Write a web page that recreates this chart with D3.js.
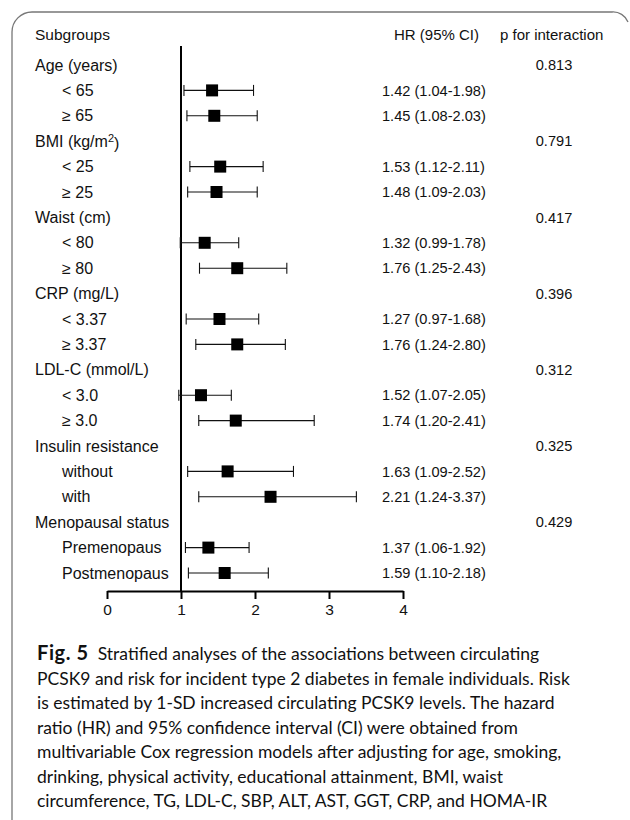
<!DOCTYPE html>
<html>
<head>
<meta charset="utf-8">
<script src="https://cdn.jsdelivr.net/npm/d3@7"></script>
<style>
  body { margin: 0; background: #fff; }
  svg text { fill: #111; }
</style>
</head>
<body>
<div class="container"></div>
<script>
// row labels (group headers have level 0, subgroups level 1)
const rowLabels = [
  'Age (years)', '< 65', '\u2265 65',
  'BMI (kg/m2)', '< 25', '\u2265 25',
  'Waist (cm)', '< 80', '\u2265 80',
  'CRP (mg/L)', '< 3.37', '\u2265 3.37',
  'LDL-C (mmol/L)', '< 3.0', '\u2265 3.0',
  'Insulin resistance', 'without', 'with',
  'Menopausal status', 'Premenopaus', 'Postmenopaus'
];
const rowLevels = [0, 1, 1, 0, 1, 1, 0, 1, 1, 0, 1, 1, 0, 1, 1, 0, 1, 1, 0, 1, 1];

// plotted estimates (as drawn in the figure)
const hr    = [null, 1.42, 1.45, null, 1.53, 1.48, null, 1.32, 1.76, null, 1.52, 1.76, null, 1.27, 1.74, null, 1.63, 2.21, null, 1.37, 1.59];
const lower = [null, 1.04, 1.08, null, 1.12, 1.09, null, 0.99, 1.25, null, 1.07, 1.20, null, 0.97, 1.24, null, 1.09, 1.24, null, 1.06, 1.10];
const upper = [null, 1.98, 2.03, null, 2.11, 2.03, null, 1.78, 2.43, null, 2.05, 2.41, null, 1.68, 2.80, null, 2.52, 3.37, null, 1.92, 2.18];

// text columns
const hrText = ['', '1.42 (1.04-1.98)', '1.45 (1.08-2.03)', '', '1.53 (1.12-2.11)', '1.48 (1.09-2.03)',
  '', '1.32 (0.99-1.78)', '1.76 (1.25-2.43)', '', '1.27 (0.97-1.68)', '1.76 (1.24-2.80)',
  '', '1.52 (1.07-2.05)', '1.74 (1.20-2.41)', '', '1.63 (1.09-2.52)', '2.21 (1.24-3.37)',
  '', '1.37 (1.06-1.92)', '1.59 (1.10-2.18)'];
const pText = ['0.813', '', '', '0.791', '', '', '0.417', '', '', '0.396', '', '', '0.312', '', '', '0.325', '', '', '0.429', '', ''];
const xTicks = [0, 1, 2, 3, 4];

const captionLines = [
  'Stratified analyses of the associations between circulating',
  'PCSK9 and risk for incident type 2 diabetes in female individuals. Risk',
  'is estimated by 1-SD increased circulating PCSK9 levels. The hazard',
  'ratio (HR) and 95% confidence interval (CI) were obtained from',
  'multivariable Cox regression models after adjusting for age, smoking,',
  'drinking, physical activity, educational attainment, BMI, waist',
  'circumference, TG, LDL-C, SBP, ALT, AST, GGT, CRP, and HOMA-IR'
];

const width = 630;
const height = 820;
const font = '"Liberation Sans", Arial, sans-serif';

const svg = d3.select('.container')
  .append('svg')
  .attr('width', width)
  .attr('height', height);

// frame
svg.append('path')
  .attr('d', 'M12,820 V32 A20,20 0 0 1 32,12 H612 A16,16 0 0 1 628,22')
  .attr('fill', 'none')
  .attr('stroke', '#777')
  .attr('stroke-width', 1.3);

const x = d3.scaleLinear().domain([0, 4]).range([107, 403]);
const y = d3.scaleLinear().domain([0, rowLabels.length - 1]).range([65, 573]);
const axisY = 591;

// header
const header = svg.append('g')
  .style('font-family', font)
  .style('font-size', '15px');
header.append('text').attr('x', 35).attr('y', 35).attr('dy', '0.35em').style('font-size', '15.5px').text('Subgroups');
header.append('text').attr('x', 394).attr('y', 35).attr('dy', '0.35em').text('HR (95% CI)');
header.append('text').attr('x', 500).attr('y', 35).attr('dy', '0.35em').text('p for interaction');

// row labels
const rows = svg.append('g')
  .style('font-family', font)
  .style('font-size', '16px');

rowLabels.forEach((label, i) => {
  const t = rows.append('text')
    .attr('x', rowLevels[i] === 0 ? 35 : 62)
    .attr('y', y(i))
    .attr('dy', '0.35em');
  if (label === 'BMI (kg/m2)') {
    t.append('tspan').text('BMI (kg/m');
    t.append('tspan').attr('dy', '-0.45em').style('font-size', '11px').text('2');
    t.append('tspan').attr('dy', '0.45em').text(')');
  } else {
    t.text(label);
  }
});

const cols = svg.append('g')
  .style('font-family', font)
  .style('font-size', '14.6px');

cols.selectAll('.hr')
  .data(hrText)
  .enter()
  .append('text')
  .attr('class', 'hr')
  .attr('x', 382)
  .attr('y', (d, i) => y(i))
  .attr('dy', '0.35em')
  .text(d => d);

cols.selectAll('.p')
  .data(pText)
  .enter()
  .append('text')
  .attr('class', 'p')
  .attr('x', 554)
  .attr('y', (d, i) => y(i))
  .attr('dy', '0.35em')
  .attr('text-anchor', 'middle')
  .text(d => d);

// reference line at HR = 1
svg.append('line')
  .attr('x1', x(1)).attr('x2', x(1))
  .attr('y1', 46).attr('y2', axisY)
  .attr('stroke', '#000')
  .attr('stroke-width', 2);

// error bars and markers
const marks = svg.append('g');
const idx = d3.range(hr.length).filter(i => hr[i] != null);

marks.selectAll('.ci')
  .data(idx)
  .enter()
  .append('line')
  .attr('x1', i => x(lower[i]))
  .attr('x2', i => x(upper[i]))
  .attr('y1', i => y(i))
  .attr('y2', i => y(i))
  .attr('stroke', '#111')
  .attr('stroke-width', 1.1);

['lo', 'hi'].forEach(k => {
  marks.selectAll('.cap-' + k)
    .data(idx)
    .enter()
    .append('line')
    .attr('x1', i => x(k === 'lo' ? lower[i] : upper[i]))
    .attr('x2', i => x(k === 'lo' ? lower[i] : upper[i]))
    .attr('y1', i => y(i) - 5.5)
    .attr('y2', i => y(i) + 5.5)
    .attr('stroke', '#111')
    .attr('stroke-width', 1.1);
});

const box = 12;
marks.selectAll('rect')
  .data(idx)
  .enter()
  .append('rect')
  .attr('x', i => x(hr[i]) - box / 2)
  .attr('y', i => y(i) - box / 2)
  .attr('width', box)
  .attr('height', box)
  .attr('fill', '#000');

// x axis
const axis = svg.append('g')
  .attr('transform', `translate(0, ${axisY})`)
  .call(d3.axisBottom(x).tickValues(xTicks).tickSize(8).tickSizeOuter(0).tickPadding(5).tickFormat(d3.format('d')));
axis.select('.domain').attr('stroke', '#000').attr('stroke-width', 2.2);
axis.selectAll('.tick line').attr('stroke', '#000').attr('stroke-width', 2);
axis.selectAll('.tick text')
  .style('font-family', font)
  .style('font-size', '15.5px')
  .attr('fill', '#111');

// caption
const cap = svg.append('g')
  .style('font-family', 'Lato, "Open Sans", sans-serif')
  .style('font-size', '17.5px');

captionLines.forEach((line, i) => {
  const t = cap.append('text')
    .attr('x', 37)
    .attr('y', 654 + i * 24.5)
    .attr('dy', '0.35em')
    .attr('fill', '#222');
  if (i === 0) {
    t.append('tspan').style('font-weight', 'bold').style('font-size', '20px').style('letter-spacing', '0.6px').text('Fig. 5');
    t.append('tspan').attr('dx', 9).text(line);
  } else {
    t.text(line);
  }
});
</script>
</body>
</html>
